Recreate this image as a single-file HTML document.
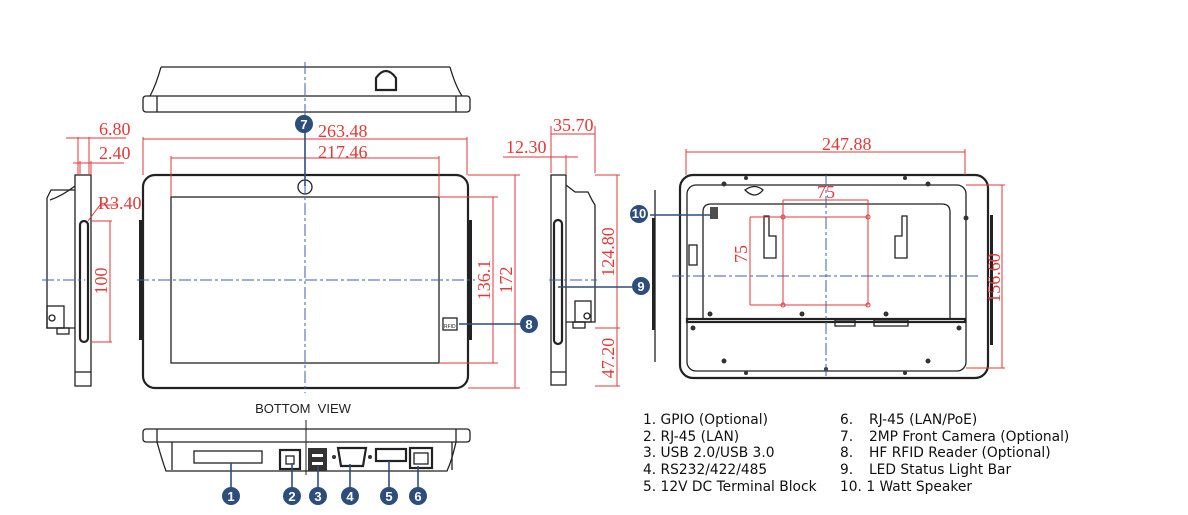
<!DOCTYPE html>
<html><head><meta charset="utf-8"><style>
html,body{margin:0;padding:0;background:#fff}
svg{display:block}
.k{fill:none;stroke:#222;stroke-width:1.3}
.kt{fill:none;stroke:#222;stroke-width:2.2}
.r{fill:none;stroke:#e23a3a;stroke-width:1}
.c{fill:none;stroke:#3c5fae;stroke-width:1;stroke-dasharray:12 3 3 3}
.lead{stroke:#2d4e7c;stroke-width:1.6;fill:none}
.rt{fill:#e23a3a;font-family:"Liberation Serif",serif;font-size:18px}
.m{fill:#2d4e7c}
.mt{fill:#fff;font-family:"Liberation Sans",sans-serif;font-weight:bold;font-size:13px;text-anchor:middle}
.lg{fill:#111;font-family:"DejaVu Sans",sans-serif;font-size:13.8px}
</style></head><body>
<svg width="1188" height="515" viewBox="0 0 1188 515" xmlns="http://www.w3.org/2000/svg">
<!-- TOP VIEW -->
<path class="k" d="M161,67 L450,67 M161,67 Q156,85 150,96 M450,67 Q455,85 462,96"/>
<rect class="k" x="143" y="96" width="327" height="16" rx="3"/>
<line class="k" x1="157" y1="96" x2="157" y2="112"/><line class="k" x1="456" y1="96" x2="456" y2="112"/>
<path class="kt" d="M376,90 L376,78 Q386,64 396,78 L396,90 Z"/>
<line class="c" x1="305" y1="62" x2="305" y2="118"/>

<!-- FRONT VIEW -->
<rect class="kt" x="143" y="175" width="325" height="213" rx="12"/>
<rect class="k" x="171" y="197" width="268" height="166"/>
<rect x="139" y="220" width="4" height="120" fill="#222"/><rect x="468" y="220" width="4" height="120" fill="#222"/>
<circle class="k" cx="305" cy="187" r="7"/>
<line class="c" x1="305" y1="140" x2="305" y2="393"/>
<line class="c" x1="137" y1="280" x2="475" y2="280"/>
<rect class="k" x="443" y="318" width="14" height="12"/><text x="444" y="328" font-size="5" fill="#222" font-family="Liberation Sans">RFID</text>
<path class="r" d="M143,175 V137 M467,175 V137 M143,139 H467 M171,197 V156 M439,197 V156 M171,158 H439"/>
<text class="rt" x="318" y="137">263.48</text><text class="rt" x="318" y="158">217.46</text>
<path class="r" d="M440,197 H498 M440,363 H498 M493,197 V363 M468,175 H520 M468,388 H520 M515,175 V388"/>
<text class="rt" transform="translate(490,280) rotate(-90)" text-anchor="middle">136.1</text>
<text class="rt" transform="translate(512,280) rotate(-90)" text-anchor="middle">172</text>
<line class="lead" x1="305" y1="124" x2="305" y2="186"/>
<circle class="m" cx="304" cy="124" r="9"/><text class="mt" x="304" y="129">7</text>
<line class="lead" x1="459" y1="324" x2="522" y2="324"/>
<circle class="m" cx="529" cy="324" r="9"/><text class="mt" x="529" y="329">8</text>

<!-- LEFT SIDE VIEW -->
<rect class="k" x="75" y="175" width="16" height="211"/>
<line class="k" x1="75" y1="372" x2="91" y2="372"/>
<path class="k" d="M75,190 L51,190 L47,198 L47,328 L75,328"/>
<path class="k" d="M50,200 Q62,196 75,186"/>
<rect class="k" x="47" y="306" width="17" height="22"/><circle class="k" cx="52" cy="318" r="3"/>
<rect class="k" x="57" y="328" width="12" height="6"/>
<rect class="kt" x="80" y="221" width="8" height="121" rx="4"/>
<line class="c" x1="42" y1="280" x2="85" y2="280"/>
<path class="r" d="M78,137 V175 M89,137 V175 M66,138 H126 M80,161 V175 M91,161 V175 M73,163 H124 M92,221 H112 M92,342 H112 M110,221 V342 M88,221 L100,205 H118"/>
<text class="rt" x="99" y="135">6.80</text><text class="rt" x="99" y="159">2.40</text><text class="rt" x="98" y="209">R3.40</text>
<text class="rt" transform="translate(107,281) rotate(-90)" text-anchor="middle">100</text>

<!-- MIDDLE SIDE VIEW -->
<rect class="k" x="551" y="175" width="15" height="210"/>
<line class="k" x1="551" y1="372" x2="566" y2="372"/>
<path class="k" d="M566,185 L575,192 L588,192 L592,200 L595,205 L595,322 L566,322"/>
<rect class="k" x="575" y="301" width="16" height="21"/><circle class="k" cx="587" cy="316" r="3"/>
<rect class="k" x="573" y="322" width="12" height="6"/>
<rect class="kt" x="554" y="220" width="8" height="124" rx="4"/>
<line class="c" x1="549" y1="280" x2="597" y2="280"/>
<path class="r" d="M551,173 V126 M595,173 V126 M551,134 H595 M566,175 V155 M503,157 H578 M595,175 H620 M595,328 H620 M595,386 H620 M617,175 V386"/>
<text class="rt" x="553" y="131">35.70</text><text class="rt" x="506" y="153">12.30</text>
<text class="rt" transform="translate(614,252) rotate(-90)" text-anchor="middle">124.80</text>
<text class="rt" transform="translate(614,358) rotate(-90)" text-anchor="middle">47.20</text>
<line class="lead" x1="558" y1="287" x2="632" y2="287"/>
<circle class="m" cx="641" cy="286" r="9"/><text class="mt" x="641" y="291">9</text>
<line class="k" x1="655" y1="190" x2="655" y2="362"/>
<rect x="652" y="218" width="3" height="112" fill="#222"/>

<!-- BACK VIEW -->
<rect class="kt" x="680" y="175" width="308" height="203" rx="13"/>
<rect class="k" x="687" y="185" width="279" height="186" rx="9"/>
<path class="k" d="M703,320 V212 Q703,204 711,204 H942 Q950,204 950,212 V320"/>
<rect class="kt" x="687" y="319" width="278" height="3"/>
<rect x="990" y="215" width="3" height="130" fill="#222"/>
<rect x="710" y="207" width="8" height="12" fill="#222" opacity=".8"/>
<line class="lead" x1="650" y1="215" x2="712" y2="215"/>
<circle class="m" cx="639" cy="214" r="9"/><text class="mt" x="639" y="218" font-size="10">10</text>
<path class="k" d="M745,190 Q755,183 763,190 Q755,200 745,190 Z"/>
<path class="k" d="M764,216 H769 V236 H776 V258 H764 Z M907,216 H902 V236 H895 V258 H907 Z"/>
<rect class="k" x="689" y="245" width="8" height="20"/>
<g fill="#333"><circle cx="724" cy="184" r="2.5"/><circle cx="928" cy="184" r="2.5"/><circle cx="746" cy="178" r="2"/><circle cx="905" cy="178" r="2"/><circle cx="710" cy="314" r="2.5"/><circle cx="802" cy="314" r="2.5"/><circle cx="886" cy="314" r="2.5"/><circle cx="693" cy="328" r="2.5"/><circle cx="959" cy="328" r="2.5"/><circle cx="724" cy="361" r="2.5"/><circle cx="928" cy="361" r="2.5"/><circle cx="746" cy="373" r="2"/><circle cx="905" cy="373" r="2"/><circle cx="826" cy="369" r="2"/><circle cx="966" cy="218" r="2.5"/></g>
<rect class="k" x="835" y="320" width="20" height="6"/><rect class="k" x="874" y="320" width="34" height="6"/>
<path class="r" d="M783,200 H868 M783,200 V305 M868,200 V305 M750,217 H868 M750,217 V305 M750,305 H868"/>
<g fill="none" stroke="#e23a3a"><circle cx="783" cy="217" r="2"/><circle cx="868" cy="217" r="2"/><circle cx="783" cy="305" r="2"/><circle cx="868" cy="305" r="2"/></g>
<text class="rt" x="817" y="198">75</text>
<text class="rt" transform="translate(747,254) rotate(-90)" text-anchor="middle">75</text>
<line class="c" x1="826" y1="175" x2="826" y2="378"/>
<line class="c" x1="672" y1="276" x2="980" y2="276"/>
<path class="r" d="M686,175 V149 M965,175 V149 M686,152 H965 M966,185 H1005 M966,368 H1005 M1002,185 V368"/>
<text class="rt" x="822" y="150">247.88</text>
<text class="rt" transform="translate(1000,278) rotate(-90)" text-anchor="middle">156.60</text>

<!-- BOTTOM VIEW -->
<text x="303" y="413" text-anchor="middle" font-family="Liberation Sans,sans-serif" font-size="13" fill="#222" style="white-space:pre">BOTTOM  VIEW</text>
<rect class="k" x="143" y="429" width="327" height="13" rx="3"/>
<line class="k" x1="157" y1="429" x2="157" y2="442"/><line class="k" x1="456" y1="429" x2="456" y2="442"/>
<path class="k" d="M157,442 Q162,460 166,471 H447 Q452,460 456,442"/>
<line class="k" x1="172" y1="442" x2="172" y2="470"/><line class="k" x1="452" y1="442" x2="452" y2="470"/>
<line x1="306" y1="420" x2="306" y2="475" stroke="#222" stroke-width="1"/>
<rect class="k" x="194" y="451" width="68" height="12"/>
<rect class="kt" x="280" y="450" width="20" height="19"/><rect class="k" x="286" y="456" width="8" height="8"/>
<rect x="308" y="448" width="19" height="23" fill="#333"/>
<rect x="312" y="454" width="11" height="3" fill="#fff"/><rect x="312" y="462" width="11" height="3" fill="#fff"/>
<path class="kt" d="M338,448 H366 L363,466 H341 Z"/><circle cx="334" cy="457" r="2" fill="#333"/><circle cx="370" cy="457" r="2" fill="#333"/>
<rect class="kt" x="376" y="449" width="30" height="12"/>
<rect class="kt" x="410" y="448" width="22" height="20"/><rect class="k" x="414" y="453" width="14" height="11"/>
<g class="lead">
<line x1="231" y1="463" x2="231" y2="490"/><line x1="292" y1="463" x2="292" y2="490"/><line x1="318" y1="466" x2="318" y2="490"/><line x1="350" y1="464" x2="350" y2="490"/><line x1="389" y1="461" x2="389" y2="490"/><line x1="418" y1="466" x2="418" y2="490"/></g>
<g>
<circle class="m" cx="231" cy="496" r="9"/><text class="mt" x="231" y="501">1</text>
<circle class="m" cx="292" cy="496" r="9"/><text class="mt" x="292" y="501">2</text>
<circle class="m" cx="318" cy="496" r="9"/><text class="mt" x="318" y="501">3</text>
<circle class="m" cx="350" cy="496" r="9"/><text class="mt" x="350" y="501">4</text>
<circle class="m" cx="389" cy="496" r="9"/><text class="mt" x="389" y="501">5</text>
<circle class="m" cx="418" cy="496" r="9"/><text class="mt" x="418" y="501">6</text>
</g>

<!-- LEGEND -->
<g class="lg">
<text x="643" y="424">1. GPIO (Optional)</text>
<text x="643" y="441">2. RJ-45 (LAN)</text>
<text x="643" y="457">3. USB 2.0/USB 3.0</text>
<text x="643" y="474">4. RS232/422/485</text>
<text x="643" y="491">5. 12V DC Terminal Block</text>
<text x="840" y="424">6.</text><text x="869" y="424">RJ-45 (LAN/PoE)</text>
<text x="840" y="441">7.</text><text x="869" y="441">2MP Front Camera (Optional)</text>
<text x="840" y="457">8.</text><text x="869" y="457">HF RFID Reader (Optional)</text>
<text x="840" y="474">9.</text><text x="869" y="474">LED Status Light Bar</text>
<text x="840" y="491">10. 1 Watt Speaker</text>
</g>
</svg>
</body></html>
